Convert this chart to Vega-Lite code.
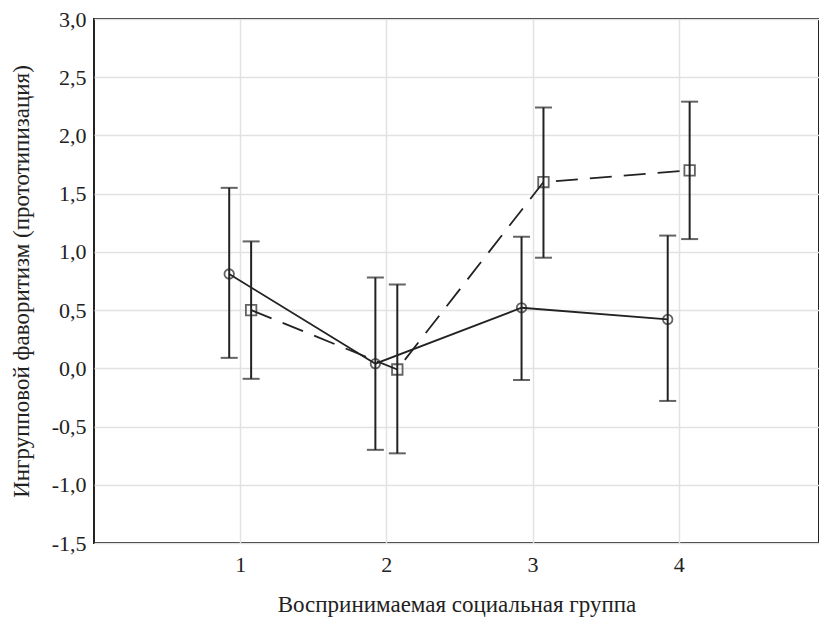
{
  "$schema": "https://vega.github.io/schema/vega-lite/v6.json",
  "width": 725,
  "height": 524,
  "autosize": {"type": "none"},
  "padding": {"left": 94, "top": 19, "right": 0, "bottom": 76},
  "background": "white",
  "config": {
    "view": {"stroke": "#222", "strokeWidth": 2}
  },
  "data": {
    "values": [
      {"g": 1, "x": 0.925, "s": "A", "m": 0.81, "lo": 0.09, "hi": 1.55},
      {"g": 2, "x": 1.925, "s": "A", "m": 0.04, "lo": -0.70, "hi": 0.78},
      {"g": 3, "x": 2.925, "s": "A", "m": 0.52, "lo": -0.10, "hi": 1.13},
      {"g": 4, "x": 3.925, "s": "A", "m": 0.42, "lo": -0.28, "hi": 1.14},
      {"g": 1, "x": 1.075, "s": "B", "m": 0.50, "lo": -0.09, "hi": 1.09},
      {"g": 2, "x": 2.075, "s": "B", "m": -0.01, "lo": -0.73, "hi": 0.72},
      {"g": 3, "x": 3.075, "s": "B", "m": 1.60, "lo": 0.95, "hi": 2.24},
      {"g": 4, "x": 4.075, "s": "B", "m": 1.70, "lo": 1.11, "hi": 2.29}
    ]
  },
  "encoding": {
    "x": {"field": "x", "type": "quantitative", "scale": {"domain": [0, 4.96], "nice": false, "zero": false},
      "axis": {"values": [1, 2, 3, 4], "format": "d", "title": "Воспринимаемая социальная группа", "labelFont": "Liberation Serif", "titleFont": "Liberation Serif", "labelFontSize": 22, "titleFontSize": 23, "titleFontWeight": "normal", "labelColor": "#222", "titleColor": "#222", "labelPadding": 11, "titlePadding": 18, "gridColor": "#e2e2e2", "gridWidth": 1.5, "domain": false, "tickSize": 0}}
  },
  "layer": [
    {
      "mark": {"type": "rule", "color": "#222", "strokeWidth": 2},
      "encoding": {
        "y": {"field": "lo", "type": "quantitative", "scale": {"domain": [-1.5, 3.0], "nice": false},
          "axis": {"values": [-1.5, -1.0, -0.5, 0, 0.5, 1.0, 1.5, 2.0, 2.5, 3.0], "labelExpr": "replace(replace(format(datum.value, '.1f'), '.', ','), '\u2212', '-')", "title": "Ингрупповой фаворитизм (прототипизация)", "labelFont": "Liberation Serif", "titleFont": "Liberation Serif", "labelFontSize": 22, "titleFontSize": 23, "titleFontWeight": "normal", "labelColor": "#222", "titleColor": "#222", "labelPadding": 8, "titlePadding": 18, "gridColor": "#e2e2e2", "gridWidth": 1.5, "domain": false, "tickSize": 0}},
        "y2": {"field": "hi"}
      }
    },
    {
      "mark": {"type": "tick", "orient": "horizontal", "color": "#222", "thickness": 2, "size": 17},
      "encoding": {"y": {"field": "lo", "type": "quantitative"}}
    },
    {
      "mark": {"type": "tick", "orient": "horizontal", "color": "#222", "thickness": 2, "size": 17},
      "encoding": {"y": {"field": "hi", "type": "quantitative"}}
    },
    {
      "transform": [{"filter": "datum.s == 'A'"}],
      "mark": {"type": "line", "color": "#222", "strokeWidth": 1.8},
      "encoding": {"y": {"field": "m", "type": "quantitative"}}
    },
    {
      "transform": [{"filter": "datum.s == 'B'"}],
      "mark": {"type": "line", "color": "#222", "strokeWidth": 1.8, "strokeDash": [22, 12]},
      "encoding": {"y": {"field": "m", "type": "quantitative"}}
    },
    {
      "transform": [{"filter": "datum.s == 'A'"}],
      "mark": {"type": "point", "shape": "circle", "filled": false, "color": "#222", "strokeWidth": 1.8, "size": 90},
      "encoding": {"y": {"field": "m", "type": "quantitative"}}
    },
    {
      "transform": [{"filter": "datum.s == 'B'"}],
      "mark": {"type": "point", "shape": "square", "filled": false, "color": "#222", "strokeWidth": 1.8, "size": 110},
      "encoding": {"y": {"field": "m", "type": "quantitative"}}
    }
  ]
}
